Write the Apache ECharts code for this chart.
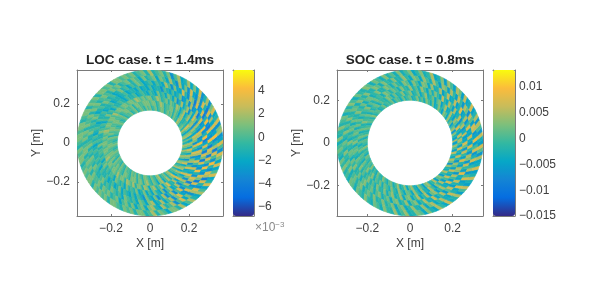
<!DOCTYPE html>
<html><head><meta charset="utf-8">
<style>html,body{margin:0;padding:0;background:#fff}#c{width:592px;height:296px;filter:blur(0.45px)}</style>
<script src="https://cdn.jsdelivr.net/npm/echarts@6/dist/echarts.min.js"></script></head>
<body><div id="c"></div>
<script>
// Field values: LOC in units of 1e-3, inner ring first, 3 deg per cell (12 groups of 10)
const locRing0=[1,-1,2,1,-2,0,2,-1,1,0, -1,1,2,-1,0,1,-1,1,0,1, 0,-1,1,1,0,-1,1,0,-1,1, 0,1,-1,0,1,0,-1,1,0,-1, 1,0,0,-1,1,0,-1,0,1,0, -1,0,1,0,0,-1,1,0,-1,0, 1,0,-1,0,1,0,0,-1,1,0, 0,-1,1,0,-1,1,0,0,-1,1, 0,1,-1,1,0,-1,1,1,0,-1, 1,0,-1,1,2,-1,0,1,-1,1, 2,-1,0,1,-1,2,0,-1,2,1, -2,1,2,-1,0,2,-1,1,2,-1];
const locRing1=[1,-2,2,1,-2,1,3,-1,0,-1, -1,2,1,-2,0,1,-1,1,1,0, 0,-1,1,2,0,-1,1,1,0,1, 1,1,0,0,1,1,-1,1,0,0, 1,1,0,-1,1,0,0,1,1,0, 0,1,1,0,1,-1,1,0,0,1, 1,0,0,1,1,0,1,-1,1,0, 1,0,1,0,-1,1,1,0,-1,1, 1,1,-1,1,1,-1,1,2,0,-1, 1,0,-2,1,2,-2,0,2,-1,1, 3,-2,0,2,-2,2,1,-2,3,1, -3,1,2,-2,1,3,-2,1,2,-2];
const locRing2=[3,-2,0,2,-3,2,1,-2,2,0, -2,2,0,-2,1,2,-1,0,1,-1, 1,0,-1,1,2,0,-1,1,1,0, 1,0,1,2,0,1,1,0,1,1, 0,1,1,0,2,0,1,1,0,1, 1,0,2,1,0,1,0,1,1,0, 1,1,0,1,2,0,1,1,0,1, 1,0,2,0,1,1,-1,2,1,0, 2,-1,1,1,-1,2,1,-2,1,2, -1,0,2,-2,1,3,-1,-1,2,-2, 3,0,-2,3,-1,-2,3,0,-3,2, 1,-3,2,3,-2,0,3,-3,1,2];
const locRing3=[3,-3,-1,2,-3,1,3,-2,1,-3, 2,0,-2,2,-1,-3,1,-2,0,1, -2,0,-1,1,-2,-1,0,-2,-1,0, -1,-2,0,-1,-1,0,-2,-1,0,-1, -1,0,-2,0,-1,1,-1,0,-2,0, -1,0,1,-1,-1,0,-1,1,-1,0, 0,-1,0,-2,0,1,-1,0,-1,0, 0,-2,1,0,-1,0,-2,1,-1,0, -1,1,-2,-1,1,-2,0,-2,1,-1, -2,1,-3,0,2,-2,-1,2,-3,0, 2,-3,1,3,-2,-1,3,-3,0,3, -2,-3,2,3,-3,-1,4,-2,-3,2];
const locRing4=[4,-2,-3,3,-1,-4,2,-2,-3,2, -3,1,-2,-3,1,-1,-2,0,-2,-1, 0,-3,-1,-1,-2,0,-2,-1,-2,0, -2,-1,-1,-2,0,-1,-2,-1,-1,-2, 0,-1,-1,-2,0,-1,-1,0,-2,-1, 0,-1,-2,0,-1,0,-2,-1,0,-1, -1,0,-1,0,-2,0,-1,-1,0,-2, -1,0,-2,-1,1,-2,0,-1,-2,0, -2,0,-1,-3,1,-1,-2,1,-3,-1, 2,-3,-1,2,-3,0,3,-3,-1,2, -4,2,3,-3,-1,4,-3,-2,3,-4, 1,3,-4,-1,3,-2,-4,4,-1,-3];
const locRing5=[-3,4,-1,-4,3,-2,-3,3,-4,1, 2,-3,-1,3,-2,-2,1,-3,0,2, -2,-1,0,-2,0,-1,-2,0,1,-1, 0,-2,0,-1,1,-1,-2,0,-1,0, 1,-1,0,-1,-2,0,1,-1,0,-1, 0,1,-1,-1,0,1,-1,0,-1,1, 0,-1,1,0,-1,-1,0,1,-1,0, -1,1,0,-1,0,-2,1,0,-1,0, -2,1,0,-2,1,2,-2,-1,2,-2, 0,2,-3,1,3,-2,-3,3,-1,-3, 3,-4,1,3,-3,-2,4,-3,0,3, -4,2,3,-4,-1,4,-3,-2,3,-4];
const locRing6=[2,-3,3,-4,-1,3,-3,2,-3,-2, 3,-3,1,-2,2,-3,-1,2,-2,0, 1,-2,1,0,-1,1,-2,0,1,-1, 1,0,-1,1,0,1,-1,0,1,0, -1,1,0,1,-1,1,0,0,1,-1, 1,0,1,-1,0,1,1,-1,0,1, 0,1,-1,1,0,0,1,-1,1,0, 1,-1,0,1,-2,0,1,-1,1,-2, 0,1,-2,1,2,-1,-2,2,-1,0, 2,-3,0,3,-2,1,-3,2,3,-3, -1,3,-4,2,3,-3,-1,4,-3,0, 3,-4,2,-1,-3,4,-2,-3,3,-2];
const locRing7=[-2,3,1,-3,2,-1,-3,3,-2,1, -2,2,-1,-2,2,0,-3,1,-1,1, 0,-1,2,-1,1,0,-1,1,0,1, 0,1,1,-1,1,0,1,1,-1,1, 0,1,-1,1,1,0,-1,1,1,0, 1,1,0,-1,1,0,1,1,-1,0, 1,0,1,1,-1,1,0,1,0,1, -1,1,1,0,-1,1,0,1,-1,1, 1,-1,0,2,-1,1,0,-2,1,1, -1,2,-2,0,2,-1,-2,2,0,-2, 3,-1,-2,3,0,-2,3,-2,1,3, -3,0,3,-2,-3,2,1,-3,3,-1];
// SOC in units of 1e-3
const socRing0=[5,-5,-2,3,-6,4,0,-5,2,-2, 4,-4,1,3,-5,-1,3,-2,-4,2, -3,0,3,-3,1,-2,3,-1,-3,2, 0,-2,2,-3,0,1,-3,2,-1,0, -2,2,-1,-3,1,0,-2,3,-2,0, 1,-3,0,2,-2,-1,2,-3,1,0, -2,3,-1,0,-3,2,0,-2,1,-1, 3,-2,0,-3,2,-1,-2,3,0,-3, 1,2,-3,0,4,-3,-1,3,-4,1, 4,-2,-4,3,0,-5,2,4,-3,-1, 5,-5,1,3,-5,-1,5,-3,-2,4, -6,2,5,-4,-1,6,-5,0,4,-5];
const socRing1=[-1,6,-4,-2,7,-5,1,4,-5,-2, 5,-3,-4,5,0,-5,3,1,-4,2, -1,-3,4,0,-4,2,-1,-3,3,0, -2,3,-1,-2,2,-3,1,3,-2,-1, 1,-3,2,0,-2,1,-3,2,-1,0, 3,-2,-1,2,-3,0,2,-2,1,-3, 0,2,-2,1,0,-3,2,-1,0,3, -2,0,3,-3,1,-1,2,-3,2,0, -3,3,-1,-3,4,0,-4,2,1,-4, 4,-1,-5,4,-2,-4,5,0,-5,3, -2,5,-5,0,6,-4,-2,6,-5,1, 4,-6,-1,6,-4,-2,7,-5,0,5];
const socRing2=[6,-3,-6,5,1,-6,6,-2,-4,5, -5,0,5,-4,-2,6,-4,-1,3,-3, 2,-4,0,4,-3,1,-2,4,-2,-1, 3,-3,0,2,-2,1,3,-3,0,-1, 2,-2,1,-3,3,0,-2,1,-3,2, -1,2,-3,1,2,-2,0,3,-3,1, 2,-1,-3,2,0,-2,3,-2,1,-2, 0,3,-2,1,-3,3,-1,-2,3,-3, 1,4,-3,-1,4,-4,2,3,-4,0, 5,-4,-1,5,-5,2,4,-5,-1,5, -3,-4,7,-5,0,5,-6,3,5,-5, -2,7,-5,-1,6,-6,2,7,-4,-5];
const socRing3=[-4,7,-1,-6,5,-3,-5,8,-2,-5, 6,-3,-4,6,-1,-5,5,-2,-3,4, -4,2,3,-4,0,3,-4,1,3,-3, -1,2,-3,1,3,-2,-2,3,-1,-3, 2,1,-3,2,-2,0,3,-2,-1,2, -3,1,2,-2,0,-3,3,-1,-2,2, 1,-3,2,-1,3,-2,-1,2,-3,1, 3,-2,0,2,-3,1,3,-3,0,2, -4,2,3,-3,-1,4,-4,1,3,-4, -1,5,-3,-3,6,-4,-1,5,-5,1, 6,-5,-2,6,-4,-3,8,-5,-1,6, -6,3,5,-6,-1,7,-5,-3,6,-4];
const socRing4=[7,-5,1,6,-7,2,5,-6,-1,6, -5,-1,5,-5,2,4,-5,0,5,-3, 0,4,-4,1,3,-4,-1,4,-2,-2, 3,-2,-1,3,-3,1,3,-2,-2,3, -2,0,3,-3,1,2,-2,-1,3,-2, 1,-2,3,-1,-3,2,0,-2,3,-1, -2,2,-1,3,-3,0,2,-2,1,3, -3,0,2,-2,3,-2,-1,3,-2,0, 3,-4,1,3,-4,-1,4,-2,-3,4, -4,2,5,-4,-1,5,-3,-4,6,-2, -4,7,-3,-5,7,0,-6,5,-1,-5, 7,-2,-6,7,0,-5,8,-4,-6,6];
const socRing5=[-6,5,-2,-5,7,-3,-4,6,-5,2, 5,-5,0,4,-5,3,-2,-4,5,-1, -3,3,-1,-4,3,0,-3,3,-3,1, -2,3,-3,0,2,-3,1,3,-2,-1, 2,-3,0,3,-2,1,-3,2,0,-2, 3,-1,-2,3,-3,0,2,-1,-3,2, -1,3,-2,0,-3,2,1,-3,2,0, -2,3,-1,-3,2,0,-3,3,-1,-2, 4,-3,0,4,-3,-2,3,1,-4,3, -2,-4,5,-1,-4,6,-3,-2,5,-5, 0,6,-5,-3,6,-2,-5,7,-3,-4, 5,-6,1,7,-5,-3,6,-6,0,5];

const locRadii=[0.168,0.194,0.22,0.245,0.271,0.297,0.322,0.348,0.374];
const socRadii=[0.2,0.224,0.247,0.271,0.295,0.318,0.342];
const locRings=[locRing0,locRing1,locRing2,locRing3,locRing4,locRing5,locRing6,locRing7];
const socRings=[socRing0,socRing1,socRing2,socRing3,socRing4,socRing5];
const locXTicks=[-0.2,0,0.2], socXTicks=[-0.2,0,0.2];
const locBarTicks=[-6,-4,-2,0,2,4];
const socBarTicks=[-15,-10,-5,0,5,10];
const socBarLabels={'-15':'−0.015','-10':'−0.01','-5':'−0.005','0':'0','5':'0.005','10':'0.01'};
const parula=['#352A87','#056DE0','#1485D4','#06A7C6','#33B8A1','#7DBF7B','#C8BC5A','#FBBC3C','#F9FB0E'];
const locRange=[-6.78,5.8], socRange=[-15,13.3];
const locExtent=0.374, socExtent=0.342;
const titles=['LOC case. t = 1.4ms','SOC case. t = 0.8ms'];

const STEP=3*Math.PI/180;
const rows=(rings,radii)=>{const out=[];rings.forEach((ring,i)=>ring.forEach((v,j)=>{
  out.push([radii[i],radii[i+1],(j+i)*STEP,(j+i+1)*STEP,v]);}));return out;};
const renderCell=(p,api)=>{
  const r0=api.value(0),r1=api.value(1),a0=api.value(2),a1=api.value(3);
  // each cell leans one step so neighbouring rings join into spiralling streaks
  const pts=[[r0,a0],[r1,a1],[r1,a1+STEP],[r0,a1]].map(([r,a])=>api.coord([r*Math.cos(a),r*Math.sin(a)]));
  const c=api.visual('color');
  return {type:'polygon',shape:{points:pts},style:{fill:c,stroke:c,lineWidth:0.6}};
};
const TXT='#404040', LINE='#7a7a7a', FONT='"Liberation Sans",Arial,sans-serif';
const fmt=v=>String(v).replace('-','−');
const valAxis=(idx,ext,ticks,name,pos,gap)=>({gridIndex:idx,type:'value',min:-ext,max:ext,position:pos,
  name,nameLocation:'middle',nameGap:gap,nameTextStyle:{color:TXT,fontSize:12,fontFamily:FONT},
  axisLine:{show:true,onZero:false,lineStyle:{color:LINE}},
  axisTick:{show:true,inside:true,length:2,lineStyle:{color:LINE},customValues:ticks},
  axisLabel:{color:TXT,fontSize:12,fontFamily:FONT,margin:7,formatter:fmt,customValues:ticks},
  splitLine:{show:false}});
const mirror=(idx,ext,ticks,pos)=>({gridIndex:idx,type:'value',min:-ext,max:ext,position:pos,
  axisLine:{show:true,onZero:false,lineStyle:{color:LINE}},
  axisTick:{show:true,inside:true,length:2,lineStyle:{color:LINE},customValues:ticks},
  axisLabel:{show:false},splitLine:{show:false}});
const barAxis=(idx,range,ticks,f)=>({gridIndex:idx,type:'value',min:range[0],max:range[1],position:'right',
  axisLine:{show:true,onZero:false,lineStyle:{color:LINE}},
  axisTick:{show:true,inside:true,length:3,lineStyle:{color:LINE},customValues:ticks},
  axisLabel:{color:TXT,fontSize:12,fontFamily:FONT,margin:4,formatter:f,customValues:ticks},splitLine:{show:false}});
const bareX=idx=>({gridIndex:idx,type:'value',min:0,max:1,axisLine:{show:true,onZero:false,lineStyle:{color:LINE}},axisTick:{show:false},axisLabel:{show:false},splitLine:{show:false}});
const bareTop=idx=>Object.assign(bareX(idx),{position:'top'});
const bareLeft=idx=>Object.assign(bareX(idx),{position:'left'});
const vm=(series,range,left,w)=>({type:'continuous',seriesIndex:series,dimension:4,min:range[0],max:range[1],
  inRange:{color:parula},calculable:false,showLabel:false,hoverLink:false,left,top:70,itemWidth:w,itemHeight:146,
  padding:0,borderWidth:0,realtime:false});

const chart=echarts.init(document.getElementById('c'),null,{renderer:'canvas'});
chart.setOption({
  animation:false,backgroundColor:'#fff',
  title:[
    {text:titles[0],left:150,top:53,textAlign:'center',padding:0,textStyle:{fontSize:13.5,fontWeight:'bold',color:'#222',fontFamily:FONT}},
    {text:titles[1],left:410,top:53,textAlign:'center',padding:0,textStyle:{fontSize:13.5,fontWeight:'bold',color:'#222',fontFamily:FONT}},
    {text:'×10{s|−3}',left:255,top:221,padding:0,textStyle:{fontSize:12,fontWeight:'normal',color:'#8a8a8a',fontFamily:FONT,rich:{s:{fontSize:8,color:'#8a8a8a',verticalAlign:'top',padding:[0,0,6,0]}}}}
  ],
  grid:[
    {left:77,top:70,width:146,height:146},
    {left:337,top:70,width:146,height:146},
    {left:233,top:70,width:21,height:146},
    {left:493,top:70,width:22,height:146}
  ],
  xAxis:[
    valAxis(0,locExtent,locXTicks,'X [m]','bottom',22),
    valAxis(1,socExtent,socXTicks,'X [m]','bottom',22),
    mirror(0,locExtent,locXTicks,'top'),
    mirror(1,socExtent,socXTicks,'top'),
    bareX(2),bareX(3),bareTop(2),bareTop(3)
  ],
  yAxis:[
    valAxis(0,locExtent,locXTicks,'Y [m]','left',32),
    valAxis(1,socExtent,socXTicks,'Y [m]','left',32),
    mirror(0,locExtent,locXTicks,'right'),
    mirror(1,socExtent,socXTicks,'right'),
    barAxis(2,locRange,locBarTicks,fmt),
    barAxis(3,socRange,socBarTicks,v=>socBarLabels[v]),
    bareLeft(2),bareLeft(3)
  ],
  visualMap:[vm(0,locRange,233,21),vm(1,socRange,493,22)],
  series:[
    {type:'custom',xAxisIndex:0,yAxisIndex:0,data:rows(locRings,locRadii),renderItem:renderCell,silent:true,encode:{x:[],y:[]},clip:true,progressive:0},
    {type:'custom',xAxisIndex:1,yAxisIndex:1,data:rows(socRings,socRadii),renderItem:renderCell,silent:true,encode:{x:[],y:[]},clip:true,progressive:0}
  ]
});
</script></body></html>
